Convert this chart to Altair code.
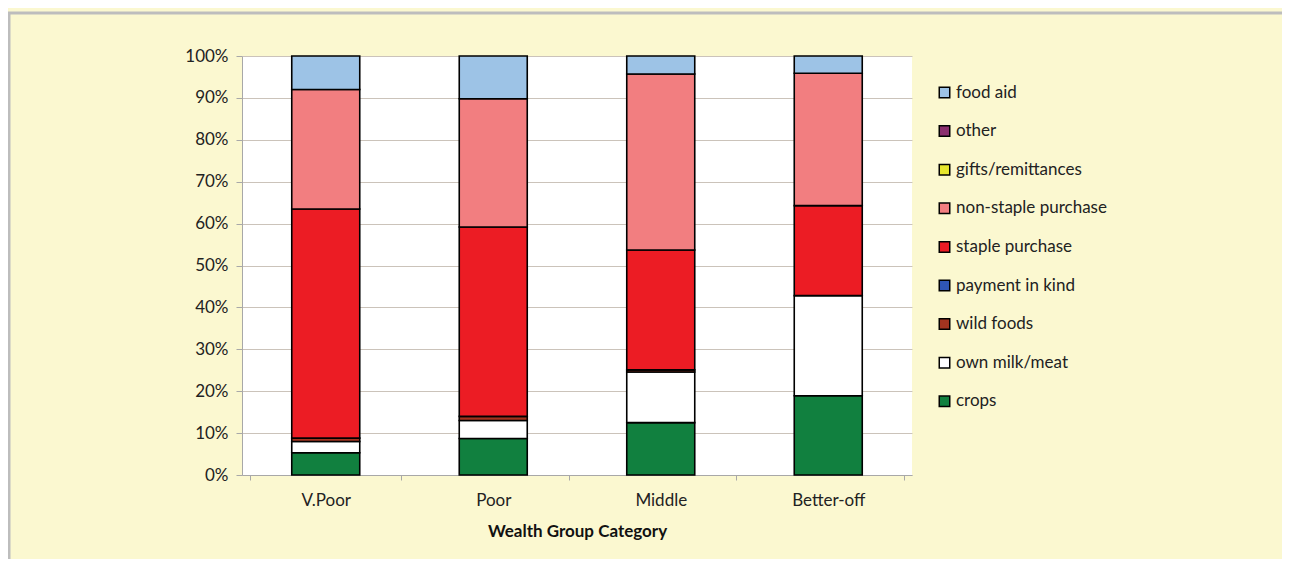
import altair as alt
import pandas as pd

groups = ["V.Poor", "Poor", "Middle", "Better-off"]
sources = ["crops", "own milk/meat", "wild foods", "payment in kind",
           "staple purchase", "non-staple purchase", "gifts/remittances",
           "other", "food aid"]
colors = ["#11803F", "#FFFFFF", "#A23420", "#2F55B5", "#EC1C24",
          "#F27E80", "#E6E62E", "#8B2F6E", "#9DC3E6"]

crops = [5.3, 8.7, 12.5, 18.9]
own_milk = [2.7, 4.3, 12.1, 23.9]
wild_foods = [0.8, 1.0, 0.5, 0.0]
payment_in_kind = [0.0, 0.0, 0.0, 0.0]
staple = [54.7, 45.2, 28.6, 21.5]
non_staple = [28.5, 30.6, 42.0, 31.6]
gifts = [0.0, 0.0, 0.0, 0.0]
other = [0.0, 0.0, 0.0, 0.0]
food_aid = [8.0, 10.2, 4.3, 4.1]

series = [crops, own_milk, wild_foods, payment_in_kind, staple,
          non_staple, gifts, other, food_aid]

rows = []
for si, (name, vals) in enumerate(zip(sources, series)):
    for g, v in zip(groups, vals):
        if v > 0:
            rows.append({"group": g, "source": name, "order": si, "value": v / 100})
df = pd.DataFrame(rows)

FONT = "Lato"
FS = 17
BG = "#FBF8D0"
GRID = "#CBC3BA"

bars = alt.Chart(df).mark_bar(
    size=68, stroke="#000000", strokeWidth=1.6
).encode(
    x=alt.X("group:N", sort=groups, title="Wealth Group Category",
            axis=alt.Axis(labelAngle=0, tickBand="extent", tickSize=5,
                          labelPadding=12, titlePadding=15,
                          labelFontSize=FS, titleFontSize=FS,
                          titleFontWeight="bold", domainColor="#A8A8A8",
                          tickColor="#A8A8A8", labelColor="#222222",
                          titleColor="#111111", labelFont=FONT, titleFont=FONT)),
    y=alt.Y("value:Q", stack="zero", title=None,
            scale=alt.Scale(domain=[0, 1], nice=False),
            axis=alt.Axis(format=".0%", values=[i / 10 for i in range(11)],
                          tickSize=6, labelPadding=8, labelFontSize=FS,
                          labelColor="#222222", labelFont=FONT,
                          domainColor="#A8A8A8", tickColor="#A8A8A8",
                          gridColor=GRID, gridWidth=1.2)),
    color=alt.Color("source:N",
                    scale=alt.Scale(domain=sources[::-1], range=colors[::-1]),
                    legend=alt.Legend(title=None, orient="none",
                                      legendX=694, legendY=28,
                                      symbolType="square", symbolSize=110,
                                      symbolStrokeColor="#000000",
                                      symbolStrokeWidth=1.5,
                                      labelFontSize=FS, labelFont=FONT,
                                      labelColor="#222222",
                                      rowPadding=20.6, labelOffset=3,
                                      padding=0)),
    order=alt.Order("order:Q", sort="ascending"),
)

frame = alt.Chart(pd.DataFrame({"a": [0]})).mark_rect(
    fill=None, stroke="#BDBDBD", strokeWidth=3
).encode(
    x=alt.value(-233), x2=alt.value(1043),
    y=alt.value(-43), y2=alt.value(560),
)

chart = alt.layer(bars, frame).properties(
    width=670, height=419,
    background=BG,
    padding={"left": 234, "top": 48, "right": 370, "bottom": 84},
    autosize=alt.AutoSizeParams(type="none"),
).configure_view(fill="#FFFFFF", stroke=None)

chart.save("out.html", embed_options={"renderer": "svg", "actions": False})
